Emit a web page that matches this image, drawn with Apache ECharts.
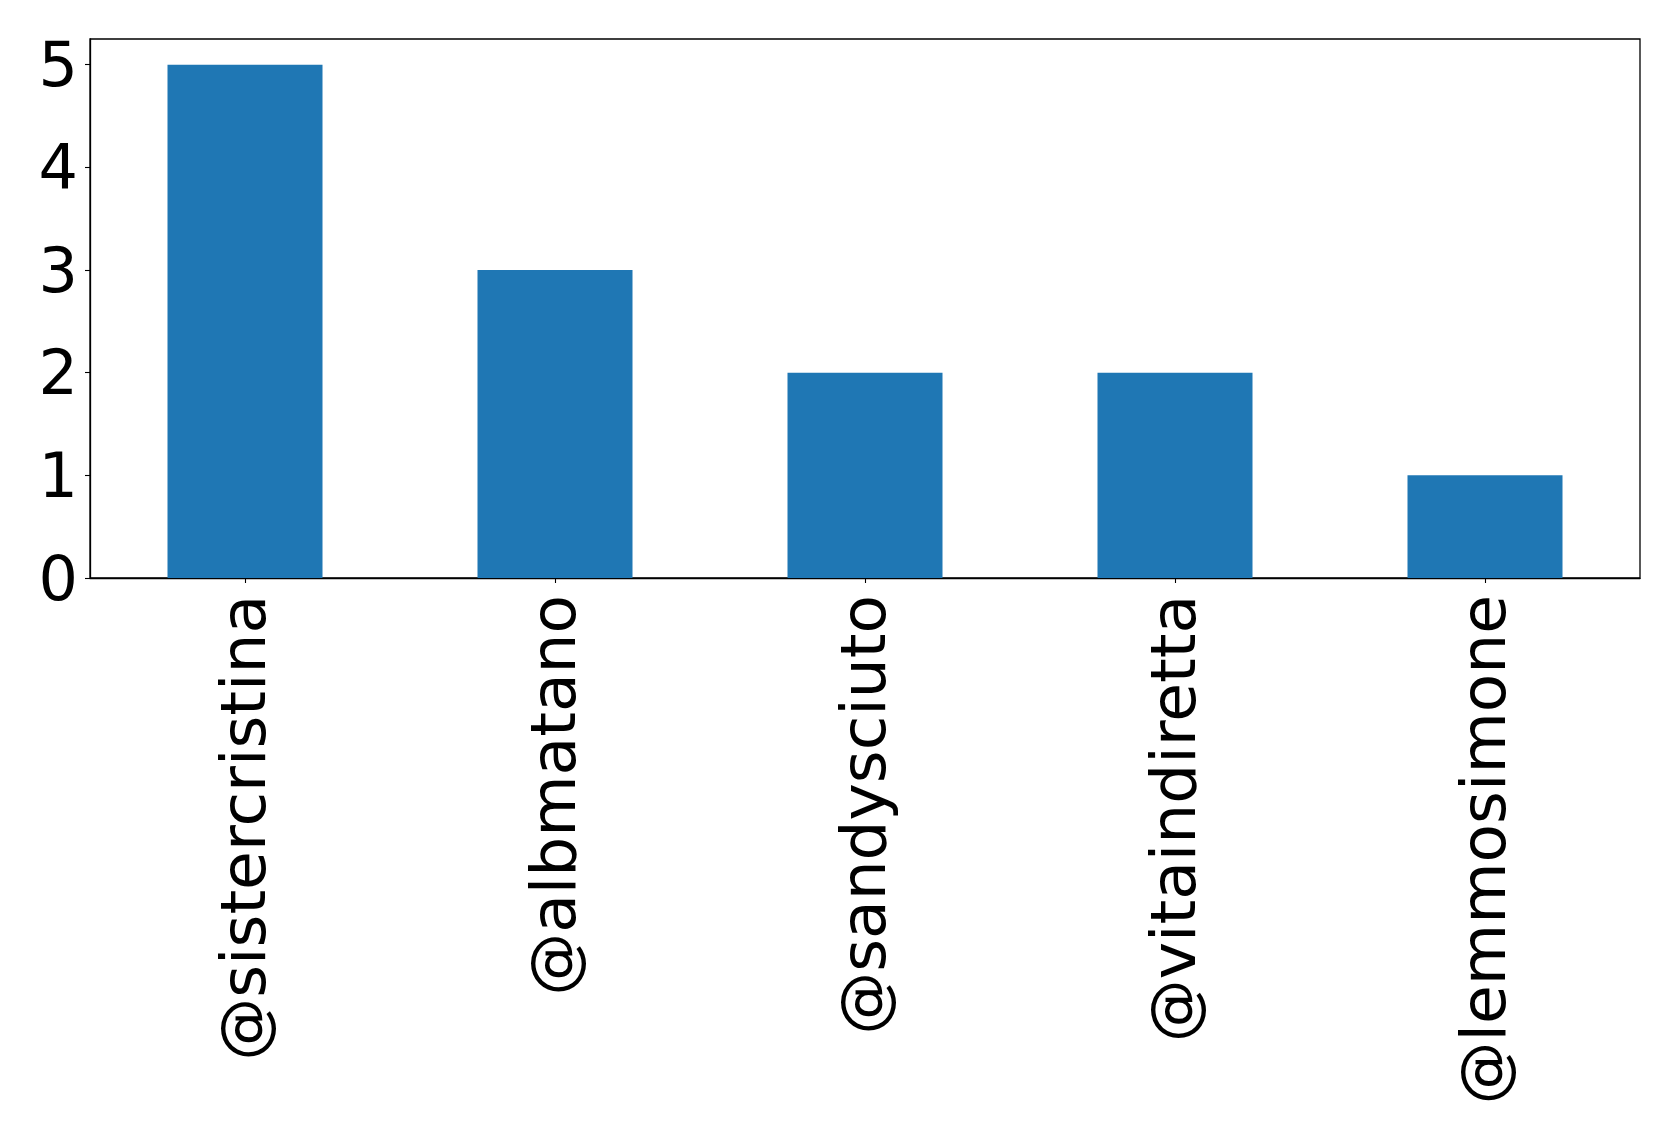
<!DOCTYPE html>
<html>
<head>
<meta charset="utf-8">
<script src="https://cdn.jsdelivr.net/npm/echarts@6/dist/echarts.min.js"></script>
<style>html,body{margin:0;padding:0;background:#fff}#c{width:1679px;height:1133px}</style>
</head>
<body>
<div id="c"></div>
<script>
const categories = ['@sistercristina', '@albmatano', '@sandysciuto', '@vitaindiretta', '@lemmosimone'];
const values = [5, 3, 2, 2, 1];
const yTicks = [0, 1, 2, 3, 4, 5];

const chart = echarts.init(document.getElementById('c'), null, {renderer: 'canvas'});
chart.setOption({
  animation: false,
  backgroundColor: '#fff',
  grid: {left: 90, right: 39, top: 39, bottom: 555, show: true, borderColor: '#000', borderWidth: 1.3, backgroundColor: 'transparent'},
  xAxis: {
    type: 'category',
    data: categories,
    boundaryGap: true,
    axisLine: {show: true, lineStyle: {color: '#000', width: 1.3}},
    axisTick: {show: true, alignWithLabel: true, length: 5, lineStyle: {color: '#000', width: 1.1}},
    axisLabel: {
      rotate: 90, interval: 0, margin: 17,
      formatter: v => '{t|' + v + '}',
      rich: {t: {padding: [8, 0, 0, 0], color: '#000', fontSize: 63, fontFamily: 'DejaVu Sans'}}
    }
  },
  yAxis: {
    type: 'value',
    min: 0,
    max: 5.25,
    interval: 1,
    splitLine: {show: false},
    axisLine: {show: true, lineStyle: {color: '#000', width: 1.3}},
    axisTick: {show: true, length: 5, customValues: yTicks, lineStyle: {color: '#000', width: 1.1}},
    axisLabel: {
      customValues: yTicks, margin: 12,
      formatter: v => '{t|' + v + '}',
      rich: {t: {padding: [11, 0, 0, 0], color: '#000', fontSize: 62, fontFamily: 'DejaVu Sans'}}
    }
  },
  series: [{
    type: 'bar',
    data: values,
    barWidth: '50%',
    itemStyle: {color: '#1f77b4'}
  }]
});
</script>
</body>
</html>
